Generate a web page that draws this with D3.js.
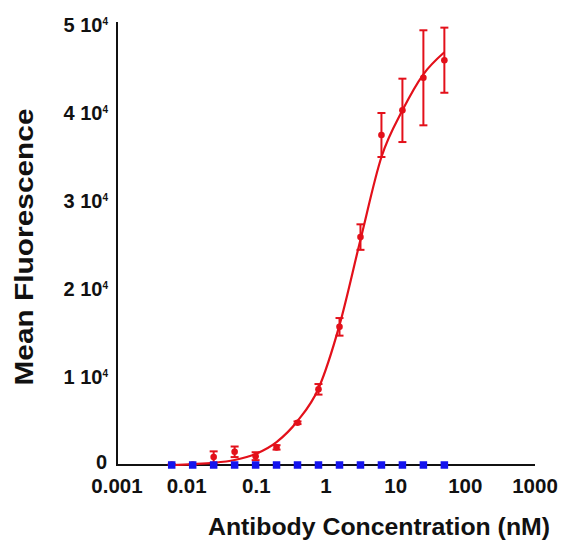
<!DOCTYPE html>
<html><head><meta charset="utf-8">
<script src="https://cdn.jsdelivr.net/npm/d3@7"></script>
<style>body{margin:0;background:#fff}svg{display:block}</style>
</head><body>
<svg id="c" width="561" height="542"></svg>
<script>
// Data (concentrations in nM)
const conc = [0.0061, 0.0122, 0.0244, 0.0488, 0.0977, 0.195, 0.39, 0.78, 1.5625, 3.125, 6.25, 12.5, 25, 50];
const redMean = [50, 60, 900, 1500, 1000, 2000, 4800, 8600, 15700, 25900, 37500, 40300, 44000, 46000];
const redSD   = [50, 50, 650, 600, 450, 250, 150, 600, 1000, 1450, 2500, 3600, 5400, 3700];
const blueMean = [0, 0, 0, 0, 0, 0, 0, 0, 0, 0, 0, 0, 0, 0];
// fitted curve
const fitX = [0.0061, 0.0122, 0.0244, 0.0488, 0.0977, 0.195, 0.39, 0.78, 1.5625, 3.125, 6.25, 12.5, 25, 50];
const fitY = [0, 100, 250, 570, 1250, 2600, 5000, 8700, 15900, 25600, 35000, 40300, 44400, 46900];
const xTicks = [0.001, 0.01, 0.1, 1, 10, 100, 1000];
const xTickLabels = ["0.001", "0.01", "0.1", "1", "10", "100", "1000"];
const yTicks = [0, 10000, 20000, 30000, 40000, 50000];
const yTickMant = ["0", "1", "2", "3", "4", "5"];

const svg = d3.select("#c");
const FONT = "'Liberation Sans', Arial, sans-serif";
const x = d3.scaleLog().domain([0.001, 1000]).range([117, 535]);
const y = d3.scaleLinear().domain([0, 50000]).range([465, 25]);
const red = "#e3101a", blue = "#1414ee";

// axes lines
svg.append("line").attr("x1", x(0.001)).attr("x2", x(1000)).attr("y1", y(0)).attr("y2", y(0))
  .attr("stroke", "#111").attr("stroke-width", 2);
svg.append("line").attr("x1", x(0.001)).attr("x2", x(0.001)).attr("y1", y(0)+1).attr("y2", 22)
  .attr("stroke", "#111").attr("stroke-width", 2);

// x tick labels
svg.append("g").selectAll("text").data(xTicks).join("text")
  .attr("x", d => x(d)).attr("y", 493).attr("text-anchor", "middle")
  .attr("font-family", FONT).attr("font-weight", "bold").attr("font-size", 20.5).attr("fill", "#111")
  .text((d, i) => xTickLabels[i]);

// y tick labels
const yl = svg.append("g").selectAll("text").data(yTicks).join("text")
  .attr("x", (d) => d === 0 ? 107 : 108).attr("y", d => y(d) + (d === 0 ? 4 : 7)).attr("text-anchor", "end")
  .attr("font-family", FONT).attr("font-weight", "bold").attr("font-size", 20).attr("fill", "#111");
yl.each(function(d, i) {
  const t = d3.select(this);
  if (d === 0) { t.text("0"); return; }
  t.append("tspan").text(yTickMant[i] + " 10");
  t.append("tspan").attr("font-size", 10).attr("dy", -7).text("4");
});

// titles
svg.append("text").attr("transform", "translate(33,247) rotate(-90)").attr("text-anchor", "middle")
  .attr("font-family", FONT).attr("font-weight", "bold").attr("font-size", 26).attr("fill", "#111")
  .attr("textLength", 277).attr("lengthAdjust", "spacingAndGlyphs")
  .text("Mean Fluorescence");
svg.append("text").attr("x", 379).attr("y", 535).attr("text-anchor", "middle")
  .attr("font-family", FONT).attr("font-weight", "bold").attr("font-size", 23.5).attr("fill", "#111")
  .attr("textLength", 342).attr("lengthAdjust", "spacingAndGlyphs")
  .text("Antibody Concentration (nM)");

// fit curve
const fit = fitX.map((v, i) => [v, fitY[i]]);
svg.append("path").datum(fit)
  .attr("d", d3.line().x(d => x(d[0])).y(d => y(d[1])).curve(d3.curveMonotoneX))
  .attr("fill", "none").attr("stroke", red).attr("stroke-width", 2.2);

// red error bars
const rd = conc.map((c, i) => ({c, m: redMean[i], s: redSD[i]}));
const eb = svg.append("g").attr("stroke", red).attr("stroke-width", 2);
eb.selectAll(".v").data(rd).join("line")
  .attr("x1", d => x(d.c)).attr("x2", d => x(d.c)).attr("y1", d => y(d.m - d.s)).attr("y2", d => y(d.m + d.s));
eb.selectAll(".t").data(rd).join("line").attr("class", "t")
  .attr("x1", d => x(d.c) - 4).attr("x2", d => x(d.c) + 4).attr("y1", d => y(d.m + d.s)).attr("y2", d => y(d.m + d.s));
eb.selectAll(".b").data(rd).join("line").attr("class", "b")
  .attr("x1", d => x(d.c) - 4).attr("x2", d => x(d.c) + 4).attr("y1", d => y(d.m - d.s)).attr("y2", d => y(d.m - d.s));
svg.append("g").selectAll("circle").data(rd).join("circle")
  .attr("cx", d => x(d.c)).attr("cy", d => y(d.m)).attr("r", 3.3).attr("fill", red);

// blue points
svg.append("g").selectAll("rect").data(conc).join("rect")
  .attr("x", (d) => x(d) - 3.75).attr("y", (d, i) => y(blueMean[i]) - 3.75)
  .attr("width", 7.5).attr("height", 7.5).attr("fill", blue);
</script>
</body></html>
